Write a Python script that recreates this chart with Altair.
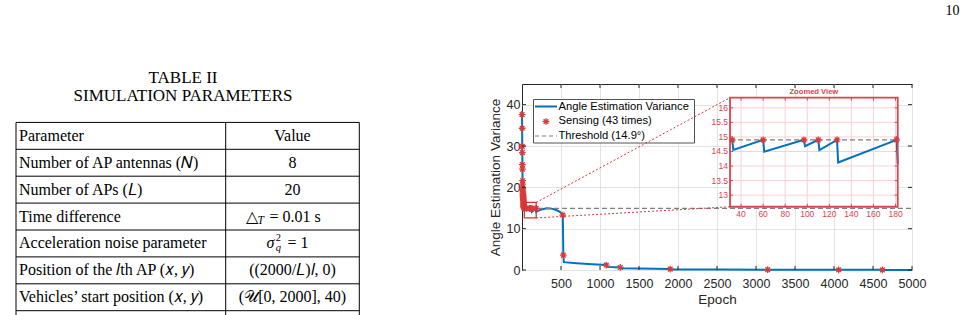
import altair as alt
import pandas as pd

# ---------------- page text and table content ----------------
page_number = "10"
table_caption = ["TABLE II", "SIMULATION PARAMETERS"]
param_names = [
    "Parameter",
    "Number of AP antennas (𝑁)",
    "Number of APs (𝐿)",
    "Time difference",
    "Acceleration noise parameter",
    "Position of the 𝑙th AP (𝑥, 𝑦)",
    "Vehicles’ start position (𝑥, 𝑦)",
]
param_values = ["Value", "8", "20", "", "", "((2000/𝐿)𝑙, 0)", "(𝒰[0, 2000], 40)"]

# ---------------- angle estimation variance over epochs ----------------
line_epoch = [
    0, 1, 2, 3, 4, 5, 6, 7, 8, 9, 10, 11, 12, 13, 14, 15, 16, 17, 18, 19, 20,
    21, 22, 23, 24, 25, 26, 27, 28, 29,
    32, 33, 60, 61, 97, 98, 110, 111, 127, 128, 181, 182,
    200, 250, 317, 380, 446, 490,
    523, 530, 536, 700, 900, 1080, 1088, 1260, 1268, 1500,
    1900, 1908, 2500, 3150, 3158, 4060, 4068, 4620, 4628, 5000,
]
line_var = [
    38.5, 37.6, 34.3, 29.9, 28.4, 25.5, 24.4, 21.6, 20.8, 19.8, 19.4,
    18.9, 18.6, 18.2, 17.9, 17.6, 17.3, 17.0, 16.7, 16.4, 16.1,
    15.9, 15.7, 15.5, 15.4, 15.3, 15.2, 15.1, 15.0, 14.95,
    14.9, 14.55, 14.9, 14.49, 14.9, 14.68, 14.9, 14.55, 14.9, 14.12, 14.9, 14.06,
    14.25, 14.65, 14.95, 14.85, 14.45, 14.0,
    13.3, 3.6, 1.9, 1.65, 1.4, 1.2, 0.75, 0.62, 0.45, 0.35,
    0.22, 0.12, 0.1, 0.08, 0.05, 0.05, 0.04, 0.04, 0.03, 0.03,
]
sense_epoch = [
    1, 2, 3, 4, 5, 6, 7, 8, 9, 10, 11, 12, 13, 14, 15, 16, 17, 18, 19, 20,
    21, 22, 23, 24, 25, 26, 27, 28, 29,
    32, 60, 97, 110, 127, 181,
    523, 530, 1080, 1260, 1900, 3150, 4060, 4620,
]
sense_var = [
    37.6, 34.3, 29.9, 28.4, 25.5, 24.4, 21.6, 20.8, 19.8, 19.4,
    18.9, 18.6, 18.2, 17.9, 17.6, 17.3, 17.0, 16.7, 16.4, 16.1,
    15.9, 15.7, 15.5, 15.4, 15.3, 15.2, 15.1, 15.0, 14.95,
    14.9, 14.9, 14.9, 14.9, 14.9, 14.9,
    13.3, 3.6, 1.2, 0.62, 0.22, 0.08, 0.05, 0.04,
]
threshold = 14.9
legend_labels = ["Angle Estimation Variance", "Sensing (43 times)", "Threshold (14.9°)"]

main_x_ticks = [500, 1000, 1500, 2000, 2500, 3000, 3500, 4000, 4500, 5000]
main_y_ticks = [0, 10, 20, 30, 40]
zoom_x = [30, 182]
zoom_y = [12.6, 16.35]
inset_x_ticks = [40, 60, 80, 100, 120, 140, 160, 180]
inset_y_ticks = [13, 13.5, 14, 14.5, 15, 15.5, 16]
# where the zoomed view sits, in the main plot's data units
inset_at_x = [2667, 4817]
inset_at_y = [15.3, 41.7]

assert len(line_epoch) == len(line_var)
assert len(sense_epoch) == len(sense_var) == 43

# ---------------- layout ----------------
W, H = 390, 186          # main plot area
LEFT, TOP = 522, 84      # its position on the page
X_MAX, Y_MAX = 5000, 45

BLUE = "#0072BD"
RED = "#D93A3A"
INSET_RED = "#D9444F"
GREY = "#7F7F7F"
INK = "#262626"
SANS = "Liberation Sans"
SERIF = "Liberation Serif"
STAR = "M0,-1L0,1M-1,0L1,0M-0.7,-0.7L0.7,0.7M-0.7,0.7L0.7,-0.7"


def gx(page_x):
    return page_x - LEFT


def gy(page_y):
    return page_y - TOP


def px(v):
    return v / X_MAX * W


def py(v):
    return H - v / Y_MAX * H


one = pd.DataFrame({"k": [0]})
line_df = pd.DataFrame({"epoch": line_epoch, "var": line_var})
sense_df = pd.DataFrame({"epoch": sense_epoch, "var": sense_var})

MX = alt.Scale(domain=[0, X_MAX], nice=False, zero=False)
MY = alt.Scale(domain=[0, Y_MAX], nice=False)

# ---------------- main plot ----------------
x_axis = alt.Axis(values=main_x_ticks, grid=True, labelPadding=7, titlePadding=3,
                  labelFlush=False, labelOverlap=False, format="d")
y_axis = alt.Axis(values=main_y_ticks, grid=True, labelPadding=2, titlePadding=4,
                  labelFlush=False, labelOverlap=False, format="d")

main_line = alt.Chart(line_df).mark_line(color=BLUE, strokeWidth=2).encode(
    x=alt.X("epoch:Q", scale=MX, axis=x_axis, title="Epoch"),
    y=alt.Y("var:Q", scale=MY, axis=y_axis, title="Angle Estimation Variance"),
)

thr_df = pd.DataFrame({"thr": [threshold]})
main_thr = alt.Chart(thr_df).mark_rule(color=GREY, strokeWidth=1.2, strokeDash=[5, 3]).encode(
    y=alt.Y("thr:Q", scale=MY, axis=None),
    x=alt.value(0), x2=alt.value(W),
)

main_pts = alt.Chart(sense_df).mark_point(
    shape=STAR, size=45, filled=False, color=RED, strokeWidth=1.3, opacity=1
).encode(
    x=alt.X("epoch:Q", scale=MX, axis=None),
    y=alt.Y("var:Q", scale=MY, axis=None),
)

zoom_df = pd.DataFrame({"x0": [zoom_x[0]], "x1": [zoom_x[1]], "y0": [zoom_y[0]], "y1": [zoom_y[1]]})
zoom_box = alt.Chart(zoom_df).mark_rect(fillOpacity=0, stroke="#D9303A", strokeWidth=1.3).encode(
    x=alt.X("x0:Q", scale=MX, axis=None), x2="x1:Q",
    y=alt.Y("y0:Q", scale=MY, axis=None), y2="y1:Q",
)

conn_df = pd.DataFrame({
    "x0": [zoom_x[1], zoom_x[1]], "y0": [zoom_y[1], zoom_y[0]],
    "x1": [inset_at_x[0], inset_at_x[0]], "y1": [inset_at_y[1], inset_at_y[0]],
})
connectors = alt.Chart(conn_df).mark_rule(color="#E0353B", strokeWidth=1, strokeDash=[2, 2]).encode(
    x=alt.X("x0:Q", scale=MX, axis=None), x2="x1:Q",
    y=alt.Y("y0:Q", scale=MY, axis=None), y2="y1:Q",
)

# inward ticks on all four sides of the box
mxt = pd.DataFrame({"t": main_x_ticks})
myt = pd.DataFrame({"t": main_y_ticks})
tick_x_bottom = alt.Chart(mxt).mark_rule(color=INK, strokeWidth=1).encode(
    x=alt.X("t:Q", scale=MX, axis=None), y=alt.value(H), y2=alt.value(H - 4))
tick_x_top = alt.Chart(mxt).mark_rule(color=INK, strokeWidth=1).encode(
    x=alt.X("t:Q", scale=MX, axis=None), y=alt.value(0), y2=alt.value(4))
tick_y_left = alt.Chart(myt).mark_rule(color=INK, strokeWidth=1).encode(
    y=alt.Y("t:Q", scale=MY, axis=None), x=alt.value(0), x2=alt.value(4))
tick_y_right = alt.Chart(myt).mark_rule(color=INK, strokeWidth=1).encode(
    y=alt.Y("t:Q", scale=MY, axis=None), x=alt.value(W), x2=alt.value(W - 4))

# ---------------- legend ----------------
LG_X0, LG_X1, LG_Y0, LG_Y1 = gx(533.5), gx(694.5), gy(99.5), gy(143)
LG_ROWS = [gy(106.5), gy(121.5), gy(136)]
LG_SAMPLE = (gx(535), gx(557))
LG_TEXT_X = gx(558.5)

legend_box = alt.Chart(one).mark_rect(fill="white", stroke=INK, strokeWidth=0.8).encode(
    x=alt.value(LG_X0), x2=alt.value(LG_X1), y=alt.value(LG_Y0), y2=alt.value(LG_Y1))
legend_line = alt.Chart(one).mark_rule(color=BLUE, strokeWidth=2).encode(
    x=alt.value(LG_SAMPLE[0]), x2=alt.value(LG_SAMPLE[1]), y=alt.value(LG_ROWS[0]))
legend_star = alt.Chart(one).mark_point(
    shape=STAR, size=45, filled=False, color=RED, strokeWidth=1.3, opacity=1
).encode(x=alt.value((LG_SAMPLE[0] + LG_SAMPLE[1]) / 2), y=alt.value(LG_ROWS[1]))
legend_dash = alt.Chart(one).mark_rule(color=GREY, strokeWidth=1.2, strokeDash=[4, 3]).encode(
    x=alt.value(LG_SAMPLE[0]), x2=alt.value(LG_SAMPLE[1]), y=alt.value(LG_ROWS[2]))
lg_df = pd.DataFrame({"i": [0, 1, 2], "label": legend_labels})
legend_text = alt.Chart(lg_df).mark_text(
    align="left", baseline="middle", font=SANS, fontSize=11.2, color="#000000"
).encode(
    x=alt.value(LG_TEXT_X),
    y=alt.Y("i:Q", axis=None, scale=alt.Scale(domain=[0, 2], range=[LG_ROWS[0], LG_ROWS[2]])),
    text="label:N",
)

# ---------------- zoomed view ----------------
IX0, IX1 = px(inset_at_x[0]), px(inset_at_x[1])
IYB, IYT = py(inset_at_y[0]), py(inset_at_y[1])
IX = alt.Scale(domain=zoom_x, range=[IX0, IX1], nice=False, zero=False)
IY = alt.Scale(domain=zoom_y, range=[IYB, IYT], nice=False, zero=False)

inset_bg = alt.Chart(zoom_df).mark_rect(fill="white").encode(
    x=alt.X("x0:Q", scale=IX, axis=None), x2="x1:Q",
    y=alt.Y("y0:Q", scale=IY, axis=None), y2="y1:Q",
)
ixt = pd.DataFrame({"t": inset_x_ticks})
iyt = pd.DataFrame({"t": inset_y_ticks})
inset_grid_x = alt.Chart(ixt).mark_rule(color="#F6D2D5", strokeWidth=1).encode(
    x=alt.X("t:Q", scale=IX, axis=None), y=alt.value(IYT), y2=alt.value(IYB))
inset_grid_y = alt.Chart(iyt).mark_rule(color="#F6D2D5", strokeWidth=1).encode(
    y=alt.Y("t:Q", scale=IY, axis=None), x=alt.value(IX0), x2=alt.value(IX1))

inset_thr = alt.Chart(thr_df).mark_rule(color=GREY, strokeWidth=1.2, strokeDash=[5, 3]).encode(
    y=alt.Y("thr:Q", scale=IY, axis=None), x=alt.value(IX0), x2=alt.value(IX1))

inset_line = alt.Chart(line_df).transform_filter(
    (alt.datum.epoch >= zoom_x[0]) & (alt.datum.epoch <= zoom_x[1])
).mark_line(color=BLUE, strokeWidth=2).encode(
    x=alt.X("epoch:Q", scale=IX, axis=None),
    y=alt.Y("var:Q", scale=IY, axis=None),
)
inset_pts = alt.Chart(sense_df).transform_filter(
    (alt.datum.epoch >= zoom_x[0]) & (alt.datum.epoch <= zoom_x[1])
).mark_point(shape=STAR, size=45, filled=False, color=RED, strokeWidth=1.3, opacity=1).encode(
    x=alt.X("epoch:Q", scale=IX, axis=None),
    y=alt.Y("var:Q", scale=IY, axis=None),
)

inset_tick_b = alt.Chart(ixt).mark_rule(color=INSET_RED, strokeWidth=1).encode(
    x=alt.X("t:Q", scale=IX, axis=None), y=alt.value(IYB), y2=alt.value(IYB - 3))
inset_tick_t = alt.Chart(ixt).mark_rule(color=INSET_RED, strokeWidth=1).encode(
    x=alt.X("t:Q", scale=IX, axis=None), y=alt.value(IYT), y2=alt.value(IYT + 3))
inset_tick_l = alt.Chart(iyt).mark_rule(color=INSET_RED, strokeWidth=1).encode(
    y=alt.Y("t:Q", scale=IY, axis=None), x=alt.value(IX0), x2=alt.value(IX0 + 3))
inset_tick_r = alt.Chart(iyt).mark_rule(color=INSET_RED, strokeWidth=1).encode(
    y=alt.Y("t:Q", scale=IY, axis=None), x=alt.value(IX1), x2=alt.value(IX1 - 3))

inset_lab_x = alt.Chart(ixt).mark_text(
    align="center", baseline="middle", font=SANS, fontSize=8.5, color=INSET_RED
).encode(x=alt.X("t:Q", scale=IX, axis=None), y=alt.value(IYB + 7),
         text=alt.Text("t:Q", format="~g"))
inset_lab_y = alt.Chart(iyt).mark_text(
    align="right", baseline="middle", font=SANS, fontSize=8.5, color=INSET_RED
).encode(y=alt.Y("t:Q", scale=IY, axis=None), x=alt.value(IX0 - 2),
         text=alt.Text("t:Q", format="~g"))
inset_title = alt.Chart(one).mark_text(
    align="center", baseline="middle", font=SANS, fontSize=7.6, fontWeight="bold",
    color=INSET_RED, text="Zoomed View"
).encode(x=alt.value((IX0 + IX1) / 2), y=alt.value(IYT - 6))
inset_border = alt.Chart(zoom_df).mark_rect(fillOpacity=0, stroke=INSET_RED, strokeWidth=1.8).encode(
    x=alt.X("x0:Q", scale=IX, axis=None), x2="x1:Q",
    y=alt.Y("y0:Q", scale=IY, axis=None), y2="y1:Q",
)

# ---------------- table on the left of the page ----------------
T_LEFT, T_MID, T_RIGHT = 16, 225.7, 359.3
T_TOP, ROW_H = 122.4, 26.9
ROW_Y = alt.Scale(domain=[0, 1], range=[gy(T_TOP), gy(T_TOP + ROW_H)], nice=False, zero=False)

n_rows = len(param_names)
table_df = pd.DataFrame({
    "row": list(range(n_rows)),
    "mid": [i + 0.5 for i in range(n_rows)],
    "name": param_names,
    "value": param_values,
})
hlines_df = pd.DataFrame({"row": list(range(n_rows + 2))})
vlines_df = pd.DataFrame({"x": [gx(T_LEFT), gx(T_MID), gx(T_RIGHT)]})

table_h = alt.Chart(hlines_df).mark_rule(color="#000000", strokeWidth=1).encode(
    y=alt.Y("row:Q", scale=ROW_Y, axis=None), x=alt.value(gx(T_LEFT)), x2=alt.value(gx(T_RIGHT)))
table_v = alt.Chart(vlines_df).mark_rule(color="#000000", strokeWidth=1).encode(
    x=alt.X("x:Q", axis=None, scale=alt.Scale(domain=[-1000, 1000], range=[-1000, 1000])),
    y=alt.value(gy(T_TOP)), y2=alt.value(gy(330)))
table_names = alt.Chart(table_df).mark_text(
    align="left", baseline="middle", font=SERIF, fontSize=16, color="#000000"
).encode(x=alt.value(gx(19)), y=alt.Y("mid:Q", scale=ROW_Y, axis=None), text="name:N")
table_values = alt.Chart(table_df).transform_filter(alt.datum.value != "").mark_text(
    align="center", baseline="middle", font=SERIF, fontSize=16, color="#000000"
).encode(x=alt.value(gx(292.5)), y=alt.Y("mid:Q", scale=ROW_Y, axis=None), text="value:N")


def row_mid(i):
    return gy(T_TOP + ROW_H * (i + 0.5))


def piece(text, page_x, row, dy=0, size=16, style="normal"):
    return alt.Chart(one).mark_text(
        align="left", baseline="middle", font=SERIF, fontSize=size, fontStyle=style,
        color="#000000", text=text
    ).encode(x=alt.value(gx(page_x)), y=alt.value(row_mid(row) + dy))


# Δ_T = 0.01 s  and  σ_q^2 = 1, typeset from pieces
math_pieces = [
    piece("△", 245.5, 3),
    piece("T", 257.5, 3, dy=4, size=11.5, style="italic"),
    piece("=  0.01 s", 269.5, 3),
    piece("σ", 266.5, 4, style="italic"),
    piece("2", 275.8, 4, dy=-5.5, size=10.5),
    piece("q", 275.8, 4, dy=5, size=10.5, style="italic"),
    piece("=  1", 287.5, 4),
]

caption = alt.Chart(pd.DataFrame({"i": [0, 1], "line": table_caption})).mark_text(
    align="center", baseline="middle", font=SERIF, fontSize=17, color="#000000"
).encode(
    x=alt.value(gx(183)),
    y=alt.Y("i:Q", axis=None, scale=alt.Scale(domain=[0, 1], range=[gy(78.3), gy(95.5)])),
    text="line:N",
)
page_no = alt.Chart(one).mark_text(
    align="center", baseline="middle", font=SERIF, fontSize=14, color="#000000", text=page_number
).encode(x=alt.value(gx(952.5)), y=alt.value(gy(11)))

chart = alt.layer(
    main_line, main_thr, main_pts, zoom_box,
    tick_x_bottom, tick_x_top, tick_y_left, tick_y_right,
    legend_box, legend_line, legend_star, legend_dash, legend_text,
    connectors,
    inset_bg, inset_grid_x, inset_grid_y, inset_thr, inset_line, inset_pts,
    inset_tick_b, inset_tick_t, inset_tick_l, inset_tick_r,
    inset_lab_x, inset_lab_y, inset_title, inset_border,
    table_h, table_v, table_names, table_values, *math_pieces, caption, page_no,
).resolve_scale(
    x="independent", y="independent"
).properties(
    width=W, height=H,
    padding={"left": LEFT, "top": TOP, "right": 966 - LEFT - W, "bottom": 315 - TOP - H},
    autosize=alt.AutoSizeParams(type="none"),
    background="white",
).configure_view(
    stroke=INK, strokeWidth=1
).configure_axis(
    labelFont=SANS, titleFont=SANS, labelFontSize=12.5, titleFontSize=13.5,
    labelColor=INK, titleColor=INK, titleFontWeight="normal",
    domain=False, ticks=False, gridColor="#E3E3E3", gridWidth=1,
)

chart.save("out.html", embed_options={"renderer": "svg", "actions": False})
